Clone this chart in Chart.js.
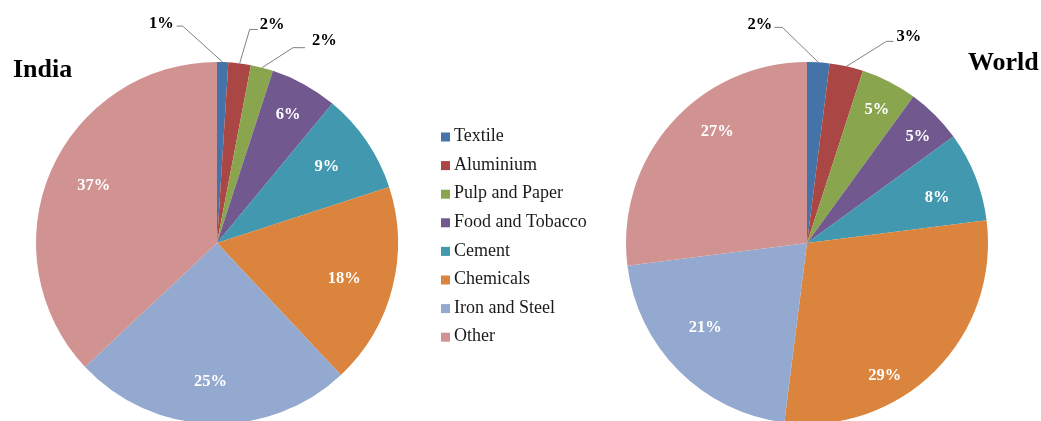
<!DOCTYPE html>
<html>
<head>
<meta charset="utf-8">
<script src="https://cdn.jsdelivr.net/npm/chart.js@4"></script>
<style>
body{margin:0;background:#fff;overflow:hidden;width:1041px;height:421px;position:relative}
canvas{position:absolute;top:0}
</style>
</head>
<body>
<canvas id="india" width="620" height="486" style="left:0"></canvas>
<canvas id="world" width="421" height="486" style="left:620px"></canvas>
<script>
// sectors, same order in both pies
var categories = ["Textile", "Aluminium", "Pulp and Paper", "Food and Tobacco", "Cement", "Chemicals", "Iron and Steel", "Other"];
var indiaShares = [1, 2, 2, 6, 9, 18, 25, 37];
var worldShares = [2, 3, 5, 5, 8, 29, 21, 27];
var sliceColors = ["#4572A7", "#AA4643", "#89A54E", "#71588F", "#4198AF", "#DB843D", "#93A9CF", "#D19392"];

var serif = "'Liberation Serif', 'DejaVu Serif', serif";

// draws % labels, callouts for thin slices, the title and (optionally) the legend
var pieLabels = {
	id: 'pieLabels',
	afterDatasetsDraw: function(chart, args, opts) {
		var ctx = chart.ctx;
		var meta = chart.getDatasetMeta(0);
		var values = chart.data.datasets[0].data;
		ctx.save();
		ctx.font = "bold 16.5px " + serif;
		ctx.textBaseline = 'middle';
		meta.data.forEach(function(arc, i) {
			var text = values[i] + '%';
			var c = opts.callouts[i];
			if (c) {
				// c = [elbow dx, elbow dy, tail length, text dy, text gap]
				var mid = (arc.startAngle + arc.endAngle) / 2;
				var ax = arc.x + Math.cos(mid) * arc.outerRadius;
				var ay = arc.y + Math.sin(mid) * arc.outerRadius;
				var ex = ax + c[0], ey = ay + c[1];
				var side = c[0] < 0 ? -1 : 1;
				var hx = ex + side * c[2];
				ctx.strokeStyle = '#808080';
				ctx.lineWidth = 1;
				ctx.beginPath();
				ctx.moveTo(ax, ay);
				ctx.lineTo(ex, ey);
				ctx.lineTo(hx, ey);
				ctx.stroke();
				ctx.fillStyle = '#000';
				ctx.textAlign = side < 0 ? 'right' : 'left';
				ctx.fillText(text, hx + side * c[4], ey + c[3]);
			} else {
				// p = [position along the slice 0..1, fraction of radius]
				var p = opts.place[i] || [0.5, 0.78];
				var a = arc.startAngle + (arc.endAngle - arc.startAngle) * p[0];
				var r = arc.outerRadius * p[1];
				ctx.fillStyle = '#fff';
				ctx.textAlign = 'center';
				ctx.fillText(text, arc.x + Math.cos(a) * r, arc.y + Math.sin(a) * r);
			}
		});

		ctx.font = "bold 26px " + serif;
		ctx.fillStyle = '#000';
		ctx.textAlign = 'left';
		ctx.textBaseline = 'alphabetic';
		ctx.fillText(opts.title, opts.titleX, opts.titleY);

		if (opts.legend) {
			var lg = opts.legend;
			ctx.font = "18px " + serif;
			ctx.textBaseline = 'middle';
			chart.data.labels.forEach(function(lab, i) {
				var y = lg.y + i * lg.step;
				ctx.fillStyle = chart.data.datasets[0].backgroundColor[i];
				ctx.fillRect(lg.x, y - 4, 9, 9);
				ctx.fillStyle = '#1a1a1a';
				ctx.fillText(lab, lg.x + 13, y);
			});
		}
		ctx.restore();
	}
};

function makePie(id, shares, padding, labelOpts) {
	var ctx = document.getElementById(id).getContext('2d');
	return new Chart(ctx, {
		type: 'pie',
		data: {
			labels: categories,
			datasets: [{
				data: shares,
				backgroundColor: sliceColors,
				borderWidth: 0
			}]
		},
		options: {
			responsive: false,
			animation: false,
			layout: { padding: padding },
			plugins: {
				legend: { display: false },
				tooltip: { enabled: false },
				pieLabels: labelOpts
			}
		},
		plugins: [pieLabels]
	});
}

makePie('india', indiaShares, { left: 36, right: 222, top: 62, bottom: 62 }, {
	title: 'India', titleX: 13, titleY: 77,
	place: { 3: [0.51, 0.81], 4: [0.48, 0.74], 5: [0.52, 0.73], 6: [0.51, 0.77], 7: [0.51, 0.75] },
	callouts: { 0: [-40, -36, 6, -2, 3], 1: [10, -34, 8, -5, 2], 2: [31, -20, 12, -7, 7] },
	legend: { x: 441, y: 136.5, step: 28.6 }
});

makePie('world', worldShares, { left: 6, right: 53, top: 62, bottom: 62 }, {
	title: 'World', titleX: 348, titleY: 70,
	place: { 2: [0.54, 0.83], 3: [0.56, 0.85], 4: [0.59, 0.76], 5: [0.64, 0.85], 6: [0.57, 0.73], 7: [0.6, 0.79] },
	callouts: { 0: [-36, -35, 8, -3, 2], 1: [40, -25, 7, -5, 3] }
});
</script>
</body>
</html>
